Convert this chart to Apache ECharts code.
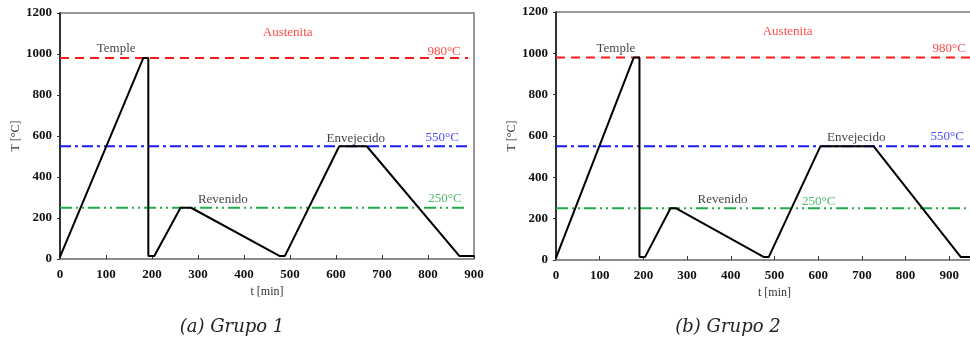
<!DOCTYPE html>
<html>
<head>
<meta charset="utf-8">
<script src="https://cdn.jsdelivr.net/npm/echarts@6/dist/echarts.min.js"></script>
<style>
  html, body { margin: 0; padding: 0; background: #fff; }
  #chart { width: 970px; height: 345px; }
</style>
</head>
<body>
<div id="chart"></div>
<script>
// Ciclo térmico: tiempo [min] y temperatura [°C] de cada grupo
const g1Time = [0, 181, 192, 192, 205, 262, 285, 477, 489, 607, 667, 868, 900];
const g1Temp = [10, 980, 980, 15, 15, 250, 250, 15, 15, 550, 550, 15, 15];
const g2Time = [0, 178, 191, 191, 204, 262, 275, 475, 487, 605, 727, 926, 1000];
const g2Temp = [10, 980, 980, 15, 15, 250, 250, 15, 15, 550, 550, 15, 15];

// Temperaturas de referencia (980, 550, 250 °C)
const refTemps = [980, 550, 250];
const refEnd1 = 887;
const refEnd2 = 1000;

// Anotaciones
const noteText = ["Austenita", "Temple", "980°C", "550°C", "Envejecido", "Revenido", "250°C"];
const note1X = [495, 122, 835, 831, 643, 354, 837];
const note1Y = [1105, 1026, 1013, 593, 585, 289, 297];
const note2X = [530, 137, 900, 895, 687, 381, 601];
const note2Y = [1103, 1025, 1025, 597, 590, 294, 282];

const captions = ["(a) Grupo 1", "(b) Grupo 2"];

const RED = "#ff1a1a", BLUE = "#1a1aff", GREEN = "#1fae4a";
const refColors = [RED, BLUE, GREEN];
const refDash = [[9, 6], [11, 4, 3, 4], [12, 4, 2, 4, 2, 4]];
const noteColors = [RED, "#111", RED, BLUE, "#111", "#111", GREEN];
const SERIF = "'Liberation Serif', 'Times New Roman', serif";

const zip = (xs, ys) => xs.map((x, i) => [x, ys[i]]);

function axesFor(i, xMax) {
  const x = {
    type: "value", gridIndex: i, min: 0, max: xMax, interval: 100,
    name: "t [min]", nameLocation: "middle", nameGap: 27,
    nameTextStyle: { fontFamily: SERIF, fontSize: 12, color: "#333" },
    axisLine: { onZero: false, lineStyle: { color: "#888", width: 1.5 } },
    axisTick: { inside: true, length: 4, lineStyle: { color: "#333" } },
    axisLabel: {
      fontFamily: SERIF, fontWeight: "bold", fontSize: 13, color: "#111", margin: 9,
      showMaxLabel: xMax === 900,
    },
    splitLine: { show: false },
  };
  const y = {
    type: "value", gridIndex: i, min: 0, max: 1200, interval: 200,
    name: "T [°C]", nameLocation: "middle", nameGap: 37,
    nameTextStyle: { fontFamily: SERIF, fontSize: 12, color: "#333" },
    axisLine: { lineStyle: { color: "#111", width: 1.5 } },
    axisTick: { length: 3, lineStyle: { color: "#333" } },
    axisLabel: {
      fontFamily: SERIF, fontWeight: "bold", fontSize: 13, color: "#111", margin: 8,
      formatter: (v) => String(v),
    },
    splitLine: { show: false },
  };
  return { x, y };
}

function seriesFor(i, time, temp, refEnd, nx, ny) {
  const out = refTemps.map((t, k) => ({
    type: "line", xAxisIndex: i, yAxisIndex: i, symbol: "none", silent: true,
    data: [[0, t], [refEnd, t]],
    lineStyle: { color: refColors[k], width: 2, type: refDash[k] },
    z: 2,
  }));
  out.push({
    type: "line", xAxisIndex: i, yAxisIndex: i, symbol: "none",
    data: zip(time, temp),
    lineStyle: { color: "#000", width: 2 },
    z: 3,
  });
  out.push({
    type: "scatter", xAxisIndex: i, yAxisIndex: i, symbolSize: 0, silent: true,
    data: noteText.map((n, k) => ({
      name: n, value: [nx[k], ny[k]],
      label: { color: noteColors[k] },
    })),
    label: {
      show: true, position: "inside", formatter: (p) => p.name,
      fontFamily: SERIF, fontSize: 13,
    },
    z: 4,
  });
  return out;
}

const a1 = axesFor(0, 900);
const a2 = axesFor(1, 1000);

const chart = echarts.init(document.getElementById("chart"), null, { renderer: "canvas" });
chart.setOption({
  animation: false,
  backgroundColor: "#fff",
  grid: [
    { left: 60, top: 13, width: 414, height: 246, show: true, borderColor: "#777", borderWidth: 1.5,
      outerBoundsMode: "none" },
    { left: 556, top: 12, width: 437, height: 248, show: true, borderColor: "#777", borderWidth: 1.5,
      outerBoundsMode: "none" },
  ],
  xAxis: [a1.x, a2.x],
  yAxis: [a1.y, a2.y],
  series: [
    ...seriesFor(0, g1Time, g1Temp, refEnd1, note1X, note1Y),
    ...seriesFor(1, g2Time, g2Temp, refEnd2, note2X, note2Y),
  ],
  graphic: captions.map((c, k) => ({
    type: "text", x: k === 0 ? 232 : 728, y: 327,
    style: {
      text: c, fontFamily: "'DejaVu Serif'", fontStyle: "italic", fontSize: 18, fill: "#222",
      align: "center", verticalAlign: "middle",
    },
  })),
});
</script>
</body>
</html>
